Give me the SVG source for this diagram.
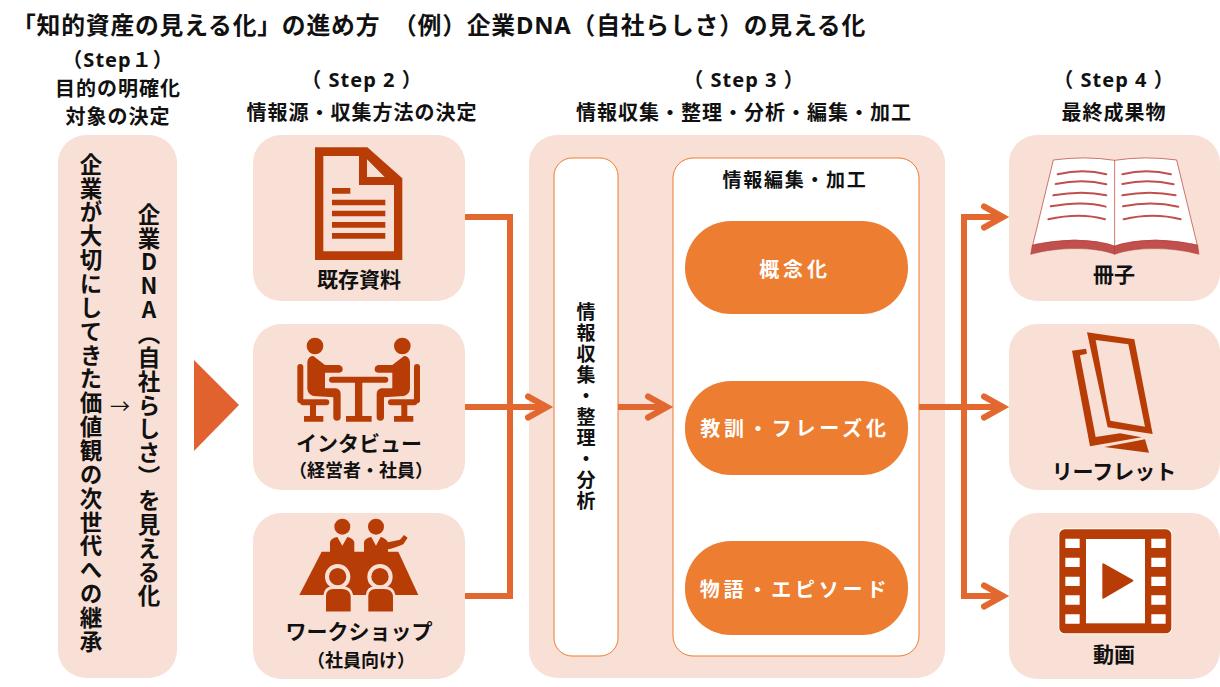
<svg xmlns="http://www.w3.org/2000/svg" width="1220" height="687" viewBox="0 0 1220 687">
<defs>
<style>
text{font-family:"Noto Sans","Noto Sans CJK JP",sans-serif;font-weight:700;fill:#111;text-anchor:middle}
.p{fill:#F8E0D6}
.w{fill:#fff;stroke:#ED7D31;stroke-width:1}
.pill{fill:#ED7D31}
.pt{fill:#fff;font-size:20px;letter-spacing:3.8px}
.i{fill:#B83C06}
.h{font-size:20px;letter-spacing:1px}
.l{font-size:21px}
.s{font-size:18px}
.v{font-family:"Noto Sans CJK JP",sans-serif;writing-mode:vertical-rl;text-orientation:upright;font-size:22.5px;letter-spacing:1.35px;text-anchor:start}
.c{fill:none;stroke:#E2682F;stroke-width:6;stroke-linejoin:miter}
.a{fill:none;stroke:#E2682F;stroke-width:6;stroke-linejoin:miter;stroke-linecap:round}
.r{fill:none;stroke:#C0504D;stroke-width:6;stroke-linecap:round}
.b{fill:#fff;stroke:#B5352A;stroke-width:2}
</style>
</defs>
<text x="439" y="34" style="font-size:23.8px;letter-spacing:.8px">「知的資産の見える化」の進め方　（例）企業DNA（自社らしさ）の見える化</text>
<g id="heads">
<text class="h" x="118" y="67">（Step１）</text>
<text class="h" x="118" y="96">目的の明確化</text>
<text class="h" x="118" y="124">対象の決定</text>
<text class="h" x="362" y="87" xml:space="preserve">（ Step 2 ）</text>
<text class="h" x="362" y="120">情報源・収集方法の決定</text>
<text class="h" x="744" y="87" xml:space="preserve">（ Step 3 ）</text>
<text class="h" x="744" y="120">情報収集・整理・分析・編集・加工</text>
<text class="h" x="1114" y="87" xml:space="preserve">（ Step 4 ）</text>
<text class="h" x="1114" y="120">最終成果物</text>
</g>
<g id="goal">
<rect class="p" x="58" y="135" width="119" height="543" rx="28"/>
<text class="v" x="91" y="153">企業が大切にしてきた価値観の次世代への継承</text>
<text class="v" x="149" y="203">企業DNA（自社らしさ）を見える化</text>
<text x="120" y="414" style="font-size:20px;font-weight:400">→</text>
</g>
<polygon id="step-arrow" points="194,360 239,405 194,451" fill="#E2622F"/>
<g id="doc">
<rect class="p" x="253" y="135" width="212" height="166" rx="28"/>
<g transform="translate(250,130) scale(.3333)">
<path class="i" fill-rule="evenodd" d="M195,52H352L457,145V390H195ZM220,78V364H432V165H327V78ZM351,88V141H404Z"/>
<path class="i" d="M246,174h55v17h-55zM246,209h160v17h-160zM246,242h160v17h-160zM246,276h160v17h-160zM246,309h160v17h-160z"/>
</g>
<text class="l" x="359" y="287">既存資料</text>
</g>
<g id="interview">
<rect class="p" x="253" y="324" width="212" height="166" rx="28"/>
<g transform="translate(250,320) scale(.3333)">
<g id="sitter">
<circle class="i" cx="195" cy="78" r="25"/>
<path class="i" d="M190,108L225,135H268Q278,138 278,148Q278,158 268,158H225V205H258Q272,208 272,222V292Q272,302 261,302Q250,302 250,292V232L190,228Q172,222 172,205V125Q175,108 190,108Z"/>
<rect class="i" x="142" y="132" width="18" height="118" rx="9"/>
<rect class="i" x="150" y="238" width="88" height="18" rx="9"/>
<path class="i" d="M180,250h18v38h22v17h-58v-17h18z"/>
</g>
<use href="#sitter" transform="translate(652,0) scale(-1,1)"/>
<rect class="i" x="237" y="170" width="178" height="18" rx="9"/>
<path class="i" d="M315,185h22v103h28v17h-77v-17h27z"/>
</g>
<text class="l" x="359" y="451">インタビュー</text>
<text class="s" x="361" y="477">（経営者・社員）</text>
</g>
<g id="workshop">
<rect class="p" x="253" y="513" width="212" height="166" rx="28"/>
<g transform="translate(250,505) scale(.3333)">
<polygon class="i" points="215,140 445,140 505,270 148,270"/>
<circle class="i" cx="277" cy="65" r="24"/>
<circle class="i" cx="378" cy="65" r="24"/>
<path class="i" d="M240,142V112Q242,100 262,96L277,122L292,96Q310,100 313,112V142Z"/>
<path class="i" d="M342,142V112Q344,100 364,96L378,122L392,96Q408,100 414,112L450,104L462,90L473,98L460,118Q420,135 414,132V142Z"/>
<g id="seat">
<circle class="i" cx="263" cy="215" r="32" stroke="#F8E0D6" stroke-width="12"/>
<path class="i" stroke="#F8E0D6" stroke-width="8" d="M224,324V272Q226,248 250,248H276Q302,248 306,272V324Z"/>
</g>
<use href="#seat" x="127"/>
<rect class="p" x="218" y="320" width="220" height="8"/>
</g>
<text class="l" x="359" y="639">ワークショップ</text>
<text class="s" x="361" y="667">（社員向け）</text>
</g>
<g id="process">
<rect class="p" x="529" y="135" width="416" height="543" rx="28"/>
<rect class="w" x="554" y="158" width="64" height="498" rx="18"/>
<text class="v" x="586" y="302" style="font-size:19px;letter-spacing:2px">情報収集・整理・分析</text>
<rect class="w" x="673" y="158" width="246" height="498" rx="20"/>
<text class="l" x="795" y="187" style="font-size:19px;letter-spacing:1.7px">情報編集・加工</text>
<rect class="pill" x="685" y="221" width="223" height="93" rx="46"/>
<text class="pt" x="795" y="277">概念化</text>
<rect class="pill" x="685" y="381" width="223" height="94" rx="46"/>
<text class="pt" x="795" y="436">教訓・フレーズ化</text>
<rect class="pill" x="685" y="541" width="223" height="94" rx="46"/>
<text class="pt" x="795" y="597">物語・エピソード</text>
</g>
<g id="book">
<rect class="p" x="1009" y="135" width="211" height="166" rx="28"/>
<g transform="translate(1005,135) scale(.3333)">
<path class="b" d="M145,75Q240,62 329,76Q420,62 515,75L578,335Q450,295 329,335Q210,295 82,335Z"/>
<path d="M77,358L82,330C160,312 270,310 329,333C390,310 500,312 578,330L582,358C500,335 390,335 329,358C270,335 160,335 77,358Z" fill="#C0504D" stroke="#B5352A" stroke-width="1.5"/>
<path d="M329,76V358" stroke="#B5352A" stroke-width="2"/>
<g class="r">
<path d="M158,118Q235,100 304,118M152,147Q235,130 304,148M145,181Q235,165 304,181M137,214Q235,196 302,215M130,253Q225,232 300,253"/>
<path d="M352,118Q425,100 498,118M352,147Q430,130 506,148M352,181Q435,165 512,181M354,214Q440,196 520,215M356,253Q445,232 527,253"/>
</g>
</g>
<text class="l" x="1114" y="282">冊子</text>
</g>
<g id="leaflet">
<rect class="p" x="1009" y="324" width="211" height="166" rx="28"/>
<g transform="translate(1005,320) scale(.3333)">
<path class="i" fill-rule="evenodd" d="M246,37L388,58L443,342L308,322ZM272,60L316,302L420,320L370,73Z"/>
<path class="i" d="M201,92L243,86L246,101L225,106L272,351L345,340L410,352L255,379Z"/>
<polygon class="i" points="298,381 420,358 432,398"/>
</g>
<text class="l" x="1114" y="479">リーフレット</text>
</g>
<g id="video">
<rect class="p" x="1009" y="513" width="211" height="166" rx="28"/>
<g transform="translate(1005,510) scale(.3333)">
<rect x="160" y="55" width="342" height="318" rx="18" fill="#fff"/>
<rect class="i" x="163" y="58" width="336" height="312" rx="16"/>
<rect x="243" y="87" width="177" height="253" fill="#fff"/>
<g fill="#fff">
<path d="M181,86h43v28h-43zM181,143h43v28h-43zM181,200h43v28h-43zM181,256h43v28h-43zM181,313h43v28h-43z"/>
<path d="M439,86h43v28h-43zM439,143h43v28h-43zM439,200h43v28h-43zM439,256h43v28h-43zM439,313h43v28h-43z"/>
</g>
<path class="i" stroke="#B83C06" stroke-width="6" stroke-linejoin="round" d="M295,163L382,212L295,263Z"/>
</g>
<text class="l" x="1114" y="662">動画</text>
</g>
<g id="connectors">
<polyline class="c" points="465,217 510,217 510,596 465,596"/>
<path class="c" d="M465,407H547M618,407H667M919,407H1003M1003,217H964V596H1003"/>
<path class="a" d="M528,396.500L547,407L528,417.500M648,396.500L667,407L648,417.500M984,206.500L1003,217L984,227.500M984,396.500L1003,407L984,417.500M984,585.500L1003,596L984,606.500"/>
</g>
</svg>
